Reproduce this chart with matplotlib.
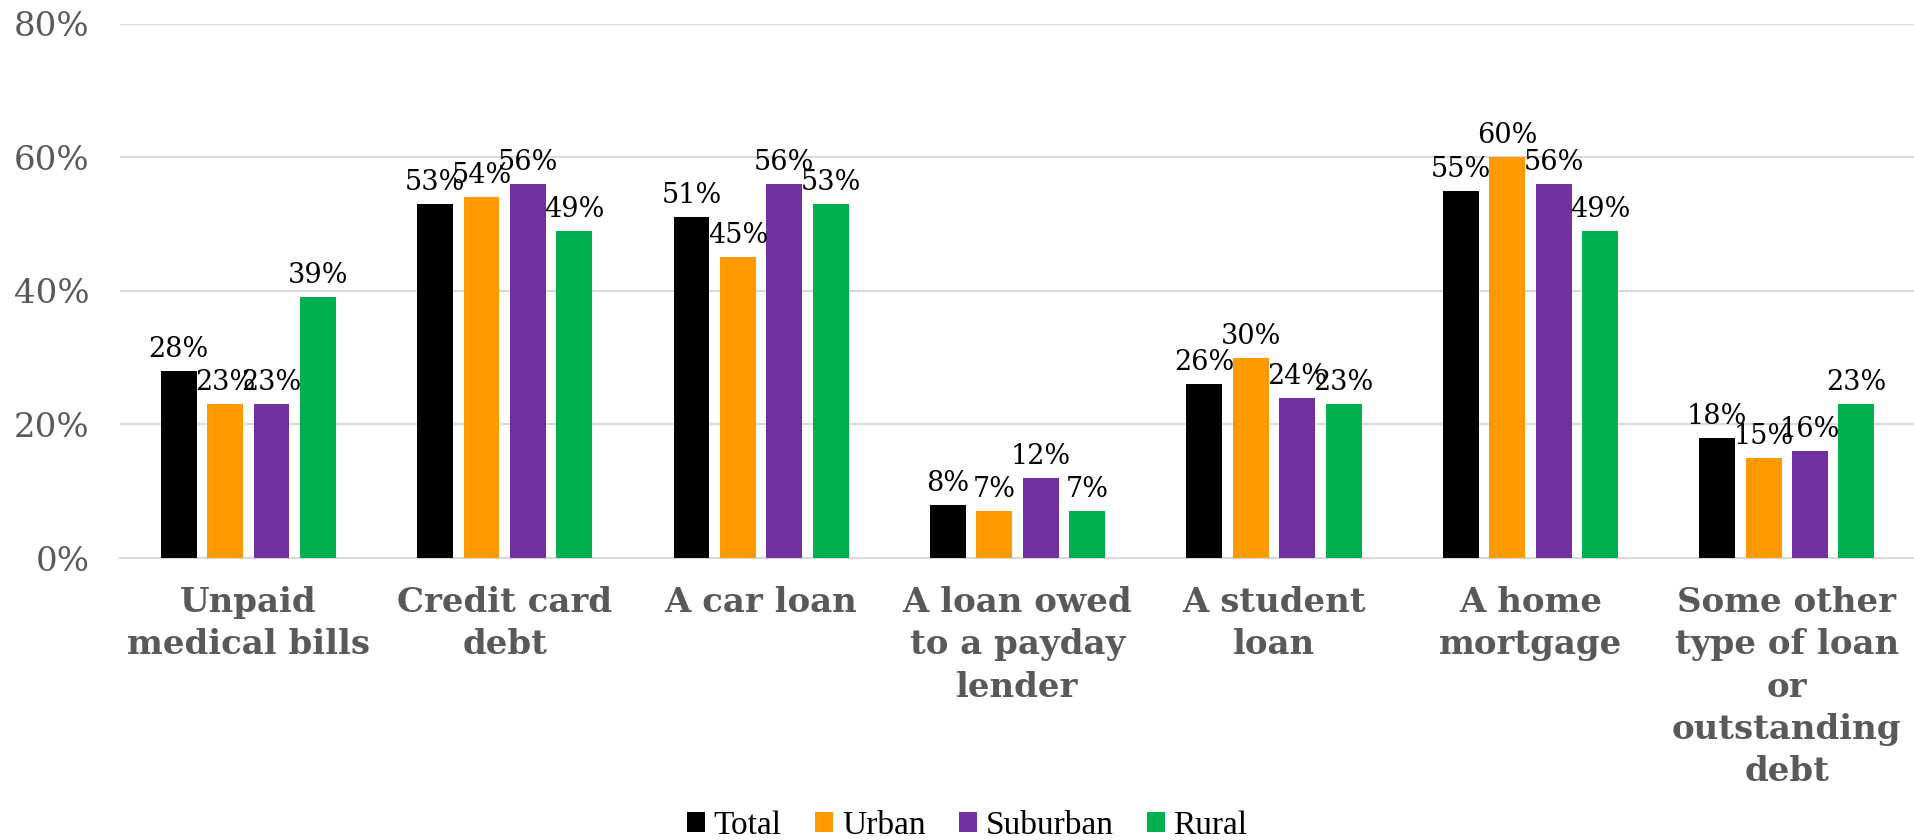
import matplotlib.pyplot as plt
import numpy as np
from matplotlib.ticker import PercentFormatter

# data
categories = ["Unpaid\nmedical bills", "Credit card\ndebt", "A car loan",
              "A loan owed\nto a payday\nlender", "A student\nloan", "A home\nmortgage",
              "Some other\ntype of loan\nor\noutstanding\ndebt"]
series = ["Total", "Urban", "Suburban", "Rural"]
total = [28, 53, 51, 8, 26, 55, 18]
urban = [23, 54, 45, 7, 30, 60, 15]
suburban = [23, 56, 56, 12, 24, 56, 16]
rural = [39, 49, 53, 7, 23, 49, 23]
colors = ["#000000", "#FF9900", "#7030A0", "#00B050"]

serif = ["DejaVu Serif"]

fig = plt.figure(figsize=(19.15, 8.4), dpi=100)
ax = fig.add_axes([0.0627, 0.3357, 0.9373, 0.6363])

x = np.arange(len(categories))
step = 0.181
width = 0.14
for i, (name, vals) in enumerate(zip(series, [total, urban, suburban, rural])):
    pos = x + (i - 1.5) * step
    bars = ax.bar(pos, vals, width=width, color=colors[i], label=name, zorder=3)
    for b, v in zip(bars, vals):
        ax.text(b.get_x() + b.get_width() / 2, v + 1.2, f"{v}%", ha="center", va="bottom",
                fontsize=19.5, family=serif, color="black", zorder=4)

ax.set_xlim(-0.5, len(categories) - 0.5)
ax.set_ylim(0, 80)
ax.set_yticks([0, 20, 40, 60, 80])
ax.yaxis.set_major_formatter(PercentFormatter(decimals=0))
ax.grid(axis="y", color="#D9D9D9", linewidth=1.5, zorder=0)
for s in ["top", "right", "left"]:
    ax.spines[s].set_visible(False)
ax.spines["bottom"].set_color("#D9D9D9")
ax.spines["bottom"].set_linewidth(1.5)
ax.tick_params(length=0)
ax.tick_params(axis="y", pad=22, labelsize=24.5, labelcolor="#595959")
for t in ax.get_yticklabels():
    t.set_family(serif)

ax.set_xticks(x)
ax.set_xticklabels(categories, fontsize=24.5, fontweight="bold", color="#595959",
                   family=serif, linespacing=1.36)
ax.tick_params(axis="x", pad=20)

ax.legend(loc="center", bbox_to_anchor=(0.472, -0.5), ncol=4, frameon=False,
          prop={"family": "Liberation Serif", "size": 24}, handlelength=0.55,
          handleheight=0.55, handletextpad=0.25, columnspacing=1.0)

fig.savefig("out.png", dpi=100)
